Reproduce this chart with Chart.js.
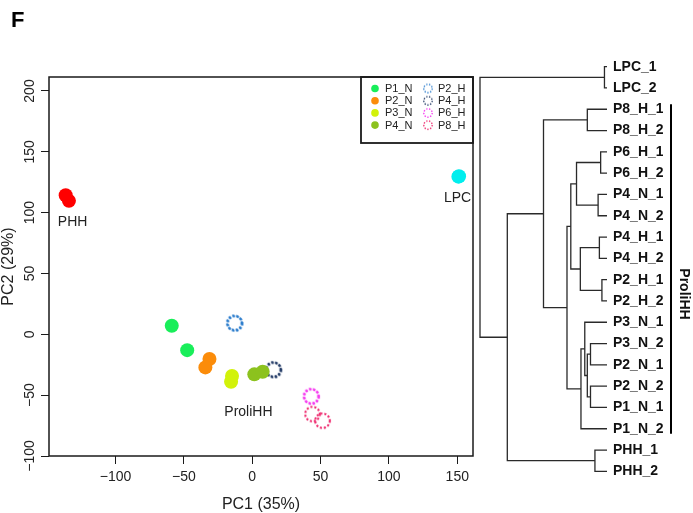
<!DOCTYPE html>
<html>
<head>
  <title>PCA and hierarchical clustering</title>
  <script src="https://cdn.jsdelivr.net/npm/chart.js"></script>
  <style>
    body { margin: 0; background: #fff; }
    #wrap { position: relative; width: 693px; height: 513px; }
    canvas { position: absolute; top: 0; }
    #pca { left: 0; }
    #tree { left: 476px; }
  </style>
</head>
<body>
<div id="wrap">
  <canvas id="pca" width="480" height="513"></canvas>
  <canvas id="tree" width="217" height="513"></canvas>
</div>
<script>
  const FONT = 'Arial, "Liberation Sans", Helvetica, sans-serif';
  Chart.defaults.font.family = FONT;

  // ---- PCA data ----
  const panelTag = 'F';
  const sampleNames = ['PHH_1', 'PHH_2', 'LPC_1', 'LPC_2',
    'P1_N_1', 'P1_N_2', 'P2_N_1', 'P2_N_2', 'P3_N_1', 'P3_N_2', 'P4_N_1', 'P4_N_2',
    'P2_H_1', 'P2_H_2', 'P4_H_1', 'P4_H_2', 'P6_H_1', 'P6_H_2', 'P8_H_1', 'P8_H_2'];
  const pc1 = [-136.5, -134.1, 151.3, 150.8,
    -58.9, -47.6, -31.3, -34.3, -14.8, -15.5, 1.5, 7.6,
    -13.1, -12.6, 15.4, 15.8, 43.0, 43.4, 44.1, 51.4];
  const pc2 = [114.3, 109.7, 129.9, 129.6,
    7.0, -13.0, -20.3, -27.2, -34.3, -39.0, -32.9, -30.8,
    9.5, 8.9, -28.8, -29.4, -50.7, -51.2, -65.5, -71.0];

  const groupNames = ['PHH', 'LPC', 'P1_N', 'P2_N', 'P3_N', 'P4_N', 'P2_H', 'P4_H', 'P6_H', 'P8_H'];
  const legendGroups = ['P1_N', 'P2_N', 'P3_N', 'P4_N', 'P2_H', 'P4_H', 'P6_H', 'P8_H'];
  const clusterLabels = ['PHH', 'LPC', 'ProliHH'];
  const clusterPC1 = [-131.4, 150.2, -2.8];
  const clusterPC2 = [92.2, 112.3, -64.3];
  const xTicks = [-100, -50, 0, 50, 100, 150];
  const yTicks = [-100, -50, 0, 50, 100, 150, 200];
  const xTitle = 'PC1 (35%)';
  const yTitle = 'PC2 (29%)';

  // ---- dendrogram data (hclust style merges) ----
  const leafOrder = ['LPC_1', 'LPC_2', 'P8_H_1', 'P8_H_2', 'P6_H_1', 'P6_H_2', 'P4_N_1', 'P4_N_2',
    'P4_H_1', 'P4_H_2', 'P2_H_1', 'P2_H_2', 'P3_N_1', 'P3_N_2', 'P2_N_1', 'P2_N_2',
    'P1_N_1', 'P1_N_2', 'PHH_1', 'PHH_2'];
  // strings are leaves, numbers point to an earlier merge (1-based)
  const mergeA = ['LPC_1', 'P6_H_1', 'P2_H_1', 'P4_N_1', 'P4_H_1', 'PHH_1', 'P3_N_2', 'P2_N_2', 7, 'P8_H_1',
    'P3_N_1', 11, 5, 2, 14, 15, 10, 17, 1];
  const mergeB = ['LPC_2', 'P6_H_2', 'P2_H_2', 'P4_N_2', 'P4_H_2', 'PHH_2', 'P2_N_1', 'P1_N_1', 8, 'P8_H_2',
    9, 'P1_N_2', 3, 4, 13, 12, 16, 6, 18];
  const mergeHeight = [0.02, 0.05, 0.04, 0.07, 0.06, 0.095, 0.13, 0.13, 0.155, 0.155,
    0.175, 0.205, 0.21, 0.24, 0.285, 0.315, 0.50, 0.785, 1.0];
  const bracketLabels = ['ProliHH'];
  const bracketFrom = ['P8_H_1'];
  const bracketTo = ['P1_N_2'];

  // ---- styles ----
  const groupColors = ['#ff0000', '#00eeee', '#19ee5a', '#fb8c0a', '#d2f20a', '#8cc21e',
    '#2a7ccc', '#233b66', '#f53cf0', '#ee2a6e'];
  const dottedGroups = ['P2_H', 'P4_H', 'P6_H', 'P8_H'];
  const ink = '#1a1a1a';

  function groupOf(name) { return name.replace(/_\d+$/, ''); }
  function fmt(v) { return v < 0 ? '\u2212' + Math.abs(v) : String(v); }

  function dottedCircle(color, r, lw, gap) {
    const c = document.createElement('canvas');
    const s = Math.ceil(2 * r + lw + 2);
    c.width = c.height = s;
    const g = c.getContext('2d');
    g.strokeStyle = color;
    g.lineWidth = lw;
    g.setLineDash([lw, gap]);
    g.beginPath();
    g.arc(s / 2, s / 2, r, 0, Math.PI * 2);
    g.stroke();
    return c;
  }

  const pcaSets = groupNames.map((g, gi) => {
    const idx = sampleNames.map((n, i) => i).filter(i => groupOf(sampleNames[i]) === g);
    const dotted = dottedGroups.includes(g);
    return {
      label: g,
      data: idx.map(i => ({ x: pc1[i], y: pc2[i] })),
      backgroundColor: groupColors[gi],
      borderWidth: 0,
      pointStyle: dotted ? dottedCircle(groupColors[gi], 7.3, 2.1, 1.9) : 'circle',
      pointRadius: 7,
      pointHoverRadius: 7
    };
  });

  // box, cluster names, legend and panel letter
  const pcaDecor = {
    id: 'pcaDecor',
    afterDraw(chart) {
      const { ctx, chartArea: ca, scales } = chart;
      ctx.save();
      ctx.strokeStyle = ink;
      ctx.lineWidth = 1.5;
      ctx.strokeRect(ca.left, ca.top, ca.right - ca.left, ca.bottom - ca.top);

      ctx.fillStyle = '#222';
      ctx.font = '14px ' + FONT;
      ctx.textAlign = 'center';
      ctx.textBaseline = 'middle';
      clusterLabels.forEach((t, i) => {
        ctx.fillText(t, scales.x.getPixelForValue(clusterPC1[i]), scales.y.getPixelForValue(clusterPC2[i]));
      });

      // legend
      const w = 112, h = 66;
      const lx = ca.right - w, ly = ca.top;
      ctx.lineWidth = 1.8;
      ctx.strokeRect(lx, ly, w, h);
      ctx.font = '11px ' + FONT;
      ctx.textAlign = 'left';
      legendGroups.forEach((g, i) => {
        const col = Math.floor(i / 4), row = i % 4;
        const mx = lx + 14 + col * 53, my = ly + 11.5 + row * 12.2;
        const color = groupColors[groupNames.indexOf(g)];
        if (dottedGroups.includes(g)) {
          const m = dottedCircle(color, 4.2, 1.4, 1.5);
          ctx.drawImage(m, mx - m.width / 2, my - m.height / 2);
        } else {
          ctx.fillStyle = color;
          ctx.beginPath();
          ctx.arc(mx, my, 3.8, 0, Math.PI * 2);
          ctx.fill();
        }
        ctx.fillStyle = '#222';
        ctx.fillText(g, mx + 10, my + 0.5);
      });

      ctx.fillStyle = '#000';
      ctx.font = 'bold 22px ' + FONT;
      ctx.fillText(panelTag, 11, 21);
      ctx.restore();
    }
  };

  const axisGrid = { drawOnChartArea: false, drawTicks: true, tickLength: 8, color: ink, lineWidth: 1 };

  new Chart(document.getElementById('pca'), {
    type: 'scatter',
    data: { datasets: pcaSets },
    options: {
      responsive: false,
      animation: false,
      events: [],
      layout: { padding: { left: 0, right: 6, top: 77, bottom: 0 } },
      plugins: { legend: { display: false }, tooltip: { enabled: false } },
      scales: {
        x: {
          type: 'linear', min: -148.7, max: 161.5,
          afterBuildTicks: s => { s.ticks = xTicks.map(v => ({ value: v })); },
          grid: axisGrid,
          border: { display: false },
          ticks: { font: { size: 14 }, color: '#222', padding: 5, autoSkip: false, maxRotation: 0, callback: fmt },
          title: { display: true, text: xTitle, color: '#222', font: { size: 16, lineHeight: 1 }, padding: 0 },
          afterFit: s => { s.height = 57; }
        },
        y: {
          type: 'linear', min: -100, max: 211.5,
          afterBuildTicks: s => { s.ticks = yTicks.map(v => ({ value: v })); },
          grid: axisGrid,
          border: { display: false },
          ticks: { font: { size: 14 }, color: '#222', padding: -4.5, autoSkip: false,
            minRotation: 90, maxRotation: 90, crossAlign: 'center', callback: fmt },
          title: { display: true, text: yTitle, color: '#222', font: { size: 16, lineHeight: 1 }, padding: { top: 1, bottom: 0 } },
          afterFit: s => { s.width = 49; }
        }
      }
    },
    plugins: [pcaDecor]
  });

  // ---- dendrogram layout from the merges ----
  const nodes = [];
  function nodeOf(ref) {
    if (typeof ref === 'string') return { h: 0, y: leafOrder.indexOf(ref) + 1 };
    return nodes[ref - 1];
  }
  const treeSets = mergeHeight.map((h, m) => {
    const a = nodeOf(mergeA[m]), b = nodeOf(mergeB[m]);
    nodes.push({ h: h, y: (a.y + b.y) / 2 });
    return {
      data: [{ x: a.h, y: a.y }, { x: h, y: a.y }, { x: h, y: b.y }, { x: b.h, y: b.y }],
      showLine: true,
      borderColor: '#2a2a2a',
      borderWidth: 1.3,
      pointRadius: 0,
      pointHoverRadius: 0,
      tension: 0,
      fill: false,
      clip: false
    };
  });

  const brackets = {
    id: 'brackets',
    afterDraw(chart) {
      const { ctx } = chart;
      const ys = chart.scales.y;
      ctx.save();
      bracketLabels.forEach((t, i) => {
        const top = ys.getPixelForValue(leafOrder.indexOf(bracketFrom[i]) + 1) - 5;
        const bot = ys.getPixelForValue(leafOrder.indexOf(bracketTo[i]) + 1) + 5;
        const x = ys.right + 8;
        ctx.strokeStyle = '#000';
        ctx.lineWidth = 2;
        ctx.beginPath();
        ctx.moveTo(x, top);
        ctx.lineTo(x, bot);
        ctx.stroke();
        ctx.translate(x + 13, (top + bot) / 2 + 25);
        ctx.rotate(Math.PI / 2);
        ctx.fillStyle = '#111';
        ctx.font = 'bold 14px ' + FONT;
        ctx.textAlign = 'center';
        ctx.textBaseline = 'middle';
        ctx.fillText(t, 0, 0);
      });
      ctx.restore();
    }
  };

  new Chart(document.getElementById('tree'), {
    type: 'scatter',
    data: { datasets: treeSets },
    options: {
      responsive: false,
      animation: false,
      events: [],
      layout: { padding: { left: 4, right: 30, top: 56, bottom: 31 } },
      plugins: { legend: { display: false }, tooltip: { enabled: false } },
      scales: {
        x: { type: 'linear', reverse: true, min: 0, max: 1, display: false },
        y: {
          type: 'linear', reverse: true, min: 0.5, max: 20.5, position: 'right',
          afterBuildTicks: s => { s.ticks = leafOrder.map((n, i) => ({ value: i + 1 })); },
          grid: { display: false, drawTicks: false },
          border: { display: false },
          ticks: { callback: (v, i) => leafOrder[i], font: { size: 14, weight: 'bold' }, color: '#111',
            padding: 6, autoSkip: false, crossAlign: 'near' },
          afterFit: s => { s.width = 56; }
        }
      }
    },
    plugins: [brackets]
  });
</script>
</body>
</html>
